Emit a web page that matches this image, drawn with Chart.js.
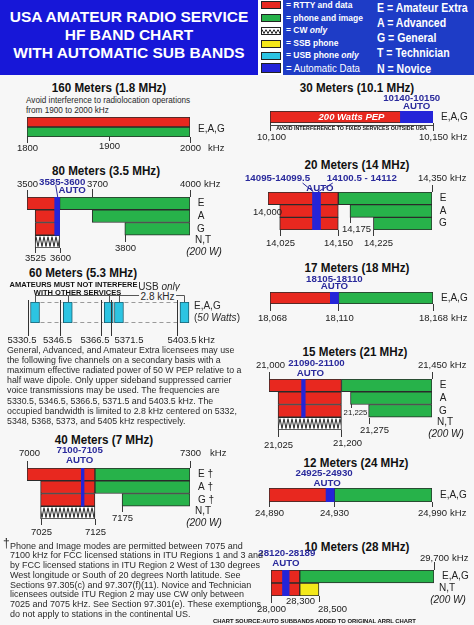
<!DOCTYPE html>
<html lang="en">
<head>
<meta charset="UTF-8">
<title>USA Amateur Radio Service HF Band Chart</title>
<script src="https://cdn.jsdelivr.net/npm/chart.js@4"></script>
<style>
  html, body { margin: 0; padding: 0; overflow: hidden; }
  body { width: 474px; height: 625px; background: #f7f7f7; }
  #page { position: relative; width: 474px; height: 625px; font-family: "Liberation Sans", Arial, sans-serif; }
  canvas.band { position: absolute; left: 0; top: 0; }
  .t { position: absolute; white-space: nowrap; line-height: 1; }
  .box { position: absolute; box-sizing: border-box; }
</style>
</head>
<body>
<div id="page"></div>
<script>
// ---- band data (kHz) ----
const b160Rows = ['E,A,G'];
const b160Data = [[1800, 2000]];
const b160Phone = [[1800, 2000]];
const b160Ticks = [1800, 1900, 2000];

const b80Rows = ['E', 'A', 'G', 'N,T'];
const b80Data = [[3500, 3600], [3525, 3600], [3525, 3600], null];
const b80Phone = [[3600, 4000], [3700, 4000], [3800, 4000], null];
const b80Cw = [null, null, null, [3525, 3600]];
const b80Auto = [[3585, 3600], [3585, 3600], [3585, 3600], null];
const b80Ticks = [3500, 3525, 3600, 3700, 3800, 4000];

const b60Low = [5330.5, 5346.5, 5366.5, 5371.5, 5403.5];
const b60Center = [5332, 5348, 5368, 5373, 5405];
const b60Range = [5325, 5410];

const b40Rows = ['E \u2020', 'A \u2020', 'G \u2020', 'N,T'];
const b40Data = [[7000, 7125], [7025, 7125], [7025, 7125], null];
const b40Phone = [[7125, 7300], [7125, 7300], [7175, 7300], null];
const b40Cw = [null, null, null, [7025, 7125]];
const b40Auto = [[7100, 7105], [7100, 7105], [7100, 7105], null];
const b40Ticks = [7000, 7025, 7125, 7175, 7300];

const b30Rows = ['E,A,G'];
const b30Data = [[10100, 10150]];
const b30Auto = [[10140, 10150]];
const b30Ticks = [10100, 10150];

const b20Rows = ['E', 'A', 'G'];
const b20Data = [[14000, 14150], [14025, 14150], [14025, 14150]];
const b20Phone = [[14150, 14350], [14175, 14350], [14225, 14350]];
const b20AutoLo = [[14095, 14099.5], [14095, 14099.5], [14095, 14099.5]];
const b20AutoHi = [[14100.5, 14112], [14100.5, 14112], [14100.5, 14112]];
const b20Ticks = [14000, 14025, 14150, 14175, 14225, 14350];

const b17Rows = ['E,A,G'];
const b17Data = [[18068, 18110]];
const b17Phone = [[18110, 18168]];
const b17Auto = [[18105, 18110]];
const b17Ticks = [18068, 18110, 18168];

const b15Rows = ['E', 'A', 'G', 'N,T'];
const b15Data = [[21000, 21200], [21025, 21200], [21025, 21200], null];
const b15Phone = [[21200, 21450], [21225, 21450], [21275, 21450], null];
const b15Cw = [null, null, null, [21025, 21200]];
const b15Auto = [[21090, 21100], [21090, 21100], [21090, 21100], null];
const b15Ticks = [21000, 21025, 21200, 21225, 21275, 21450];

const b12Rows = ['E,A,G'];
const b12Data = [[24890, 24930]];
const b12Phone = [[24930, 24990]];
const b12Auto = [[24925, 24930]];
const b12Ticks = [24890, 24930, 24990];

const b10Rows = ['E,A,G', 'N,T'];
const b10Data = [[28000, 28300], [28000, 28300]];
const b10Phone = [[28300, 29700], null];
const b10Ssb = [null, [28300, 28500]];
const b10Auto = [[28120, 28189], [28120, 28189]];
const b10Ticks = [28000, 28300, 28500, 29700];

// ---- look ----
const W = 474, H = 625;
const FONT = '"Liberation Sans", Arial, sans-serif';
const TICK = `9.5px ${FONT}`;
const SMALL = `7.8px ${FONT}`;
const ROW = `10px ${FONT}`;
const AUTO = `bold 9.7px ${FONT}`;
const NAVY = '#2a2a9c';
const EDGE = '#2b2b2b';
const MODE = {
  auto:  { label: 'Automatic Data',  color: '#2424d8', order: 0 },
  ssb:   { label: 'SSB phone',       color: '#f4e81a', order: 1 },
  data:  { label: 'RTTY and data',   color: '#e8281f', order: 2 },
  phone: { label: 'phone and image', color: '#27b24a', order: 2 },
  cw:    { label: 'CW only',         color: '#ffffff', order: 2 },
  usb:   { label: 'USB phone only',  color: '#2cc4e2', order: 2 }
};

const page = document.getElementById('page');
const plain = v => String(v);
const comma = v => v.toLocaleString('en-US');
const span = (r, sep = '-') => r[0] + sep + r[1];

function say(ctx, s, x, y, o = {}) {
  ctx.save();
  ctx.font = o.font || TICK;
  ctx.fillStyle = o.color || '#222';
  ctx.textAlign = o.align || 'center';
  ctx.textBaseline = 'middle';
  ctx.translate(x, y);
  if (o.sx) ctx.scale(o.sx, 1);
  ctx.fillText(s, 0, 0);
  ctx.restore();
}

function rule(ctx, x1, y1, x2, y2, color, w = 1) {
  ctx.save();
  ctx.strokeStyle = color;
  ctx.lineWidth = w;
  ctx.beginPath();
  ctx.moveTo(x1, y1);
  ctx.lineTo(x2, y2);
  ctx.stroke();
  ctx.restore();
}

// zig-zag fill used for the CW only rows
function zigTile(h) {
  const p = document.createElement('canvas');
  p.width = 4; p.height = h;
  const g = p.getContext('2d');
  g.fillStyle = '#fff'; g.fillRect(0, 0, 4, h);
  g.strokeStyle = '#111'; g.lineWidth = 0.9;
  g.beginPath(); g.moveTo(0, 1.5); g.lineTo(2, h - 1.5); g.lineTo(4, 1.5); g.stroke();
  return p;
}
function zigzag(c) {
  const ch = c.chart, ys = ch.scales.y;
  if (c.type !== 'data' || !ys || !ys.height) return '#fff';
  const rowH = ys.height / ch.data.labels.length;
  const top = ys.getPixelForValue(c.dataIndex) - rowH / 2;
  const pat = ch.ctx.createPattern(zigTile(Math.round(rowH)), 'repeat');
  pat.setTransform(new DOMMatrix().translate(0, Math.round(top)));
  return pat;
}

function marks(b) {
  return {
    id: 'marks',
    afterDatasetsDraw(chart) {
      const ctx = chart.ctx, xs = chart.scales.x, ys = chart.scales.y, a = chart.chartArea;
      const px = v => xs.getPixelForValue(v);
      b.ticks.forEach((v, i) => {
        const L = b.lay[i];
        const x = Math.round(px(v)) + 0.5;
        if (L.y2) rule(ctx, x, L.y1, x, L.y2, '#3a3a3a');
        const s = b.fmt(v), f = L.small ? SMALL : TICK, cx = x + (L.dx || 0);
        say(ctx, s, cx, L.ly, { font: f });
        if (L.unit != null) {
          ctx.font = f;
          const w = ctx.measureText(s).width;
          say(ctx, 'kHz', cx + w / 2 + L.unit, L.ly, { font: f, align: 'left' });
        }
      });
      const last = b.rows.length - 1;
      b.rows.forEach((r, i) => {
        const y = ys.getPixelForValue(i) + (b.rowDy || 0);
        if (r.length === 1) say(ctx, r, a.right + 11, y, { font: ROW });
        else if (r === 'N,T') say(ctx, r, a.right + 5, y - 1, { font: ROW, align: 'left' });
        else say(ctx, r, a.right + 8, y, { font: ROW, align: 'left' });
      });
      if (b.power) say(ctx, '(200 W)', a.right + 14, ys.getPixelForValue(last) + 10.5, { font: `italic ${ROW}` });
      (b.autos || []).forEach(u => {
        const m = (px(u.rng[0]) + px(u.rng[1])) / 2;
        u.lines.forEach((s, j) => say(ctx, s, m + u.dx[j], u.y[j], { font: AUTO, color: NAVY }));
      });
      if (b.extra) b.extra(ctx, px, a);
    }
  };
}

function band(b) {
  const cv = document.createElement('canvas');
  cv.width = W; cv.height = H; cv.className = 'band';
  page.appendChild(cv);
  const [l, r, t, bt] = b.area;
  return new Chart(cv, {
    type: 'bar',
    data: {
      labels: b.rows,
      datasets: b.sets.map(([mode, data]) => ({
        label: MODE[mode].label,
        data,
        backgroundColor: mode === 'cw' ? zigzag : MODE[mode].color,
        borderColor: mode === 'auto' ? MODE.auto.color : EDGE,
        borderWidth: mode === 'auto' ? 0 : 1,
        borderSkipped: false,
        grouped: !!b.grouped,
        order: MODE[mode].order,
        categoryPercentage: 1,
        barPercentage: 1
      }))
    },
    options: {
      indexAxis: 'y',
      responsive: false,
      animation: false,
      events: [],
      layout: { padding: { left: l, right: W - r, top: t, bottom: H - bt } },
      scales: {
        x: { type: 'linear', min: b.ticks[0], max: b.ticks[b.ticks.length - 1], display: false },
        y: { type: 'category', offset: true, display: false }
      },
      plugins: { legend: { display: false }, tooltip: { enabled: false } }
    },
    plugins: [marks(b)]
  });
}

// ---- HTML text and boxes ----
function txt(x, y, html, o = {}) {
  const d = document.createElement('div');
  d.className = 't';
  d.innerHTML = html;
  d.style.left = x + 'px';
  d.style.top = y + 'px';
  d.style.font = o.font || `8.6px ${FONT}`;
  d.style.color = o.color || '#2a2a2a';
  const al = o.align || 'left';
  const tx = al === 'center' ? '-50%' : al === 'right' ? '-100%' : '0';
  d.style.transformOrigin = (al === 'center' ? '50%' : al === 'right' ? '100%' : '0') + ' 50%';
  d.style.transform = `translate(${tx}, -50%) scaleX(${o.sx || 1})`;
  if (o.bg) { d.style.background = o.bg; d.style.padding = '0 2px'; }
  page.appendChild(d);
}
function box(x, y, w, h, bg, border) {
  const d = document.createElement('div');
  d.className = 'box';
  Object.assign(d.style, { left: x + 'px', top: y + 'px', width: w + 'px', height: h + 'px', background: bg });
  if (border) d.style.border = border;
  page.appendChild(d);
  return d;
}

// header
box(0, 0, 258, 75, '#1717d8');
box(258, 0, 25, 75, '#ffffff');
box(283, 0, 87, 75, '#1e3cc6');
box(370, 0, 104, 75, '#1e3cc6');
const HEAD = `bold 15.5px ${FONT}`;
txt(129, 17, 'USA AMATEUR RADIO SERVICE', { align: 'center', font: HEAD, color: '#fff' });
txt(129, 34.5, 'HF BAND CHART', { align: 'center', font: HEAD, color: '#fff' });
txt(129, 52.5, 'WITH AUTOMATIC SUB BANDS', { align: 'center', font: HEAD, color: '#fff' });

const swatchModes = ['data', 'phone', 'cw', 'ssb', 'usb', 'auto'];
const swatchY = [0.5, 14, 27, 39.5, 52, 63];
swatchModes.forEach((m, i) => {
  const s = box(260.5, swatchY[i], 20, m === 'auto' ? 10 : 8, MODE[m].color, '1px solid #222');
  if (m === 'cw') s.style.background = `url(${zigTile(7).toDataURL()}) repeat`;
});
const legendText = ['= RTTY and data', '= phone and image', '= CW <i>only</i>', '= SSB phone', '= USB phone <i>only</i>'];
const legendY = [5, 17.5, 30, 42.5, 54.5];
legendText.forEach((s, i) => txt(285.5, legendY[i], s, { font: `bold 9px ${FONT}`, color: '#fff', sx: 0.94 }));
txt(285.5, 68, '= Automatic Data', { font: `11px ${FONT}`, color: '#fff', sx: 0.88 });

const licText = ['E = Amateur Extra', 'A = Advanced', 'G = General', 'T = Technician', 'N = Novice'];
const licY = [7, 22.3, 36.5, 52, 68.3];
licText.forEach((s, i) => txt(377, licY[i], s, { font: `bold 13.5px ${FONT}`, color: '#fff', sx: 0.78 }));

// band titles
const TITLE = `bold 12px ${FONT}`;
[['160 Meters (1.8 MHz)', 108.5, 88], ['80 Meters (3.5 MHz)', 106, 171], ['60 Meters (5.3 MHz)', 82.5, 273],
 ['40 Meters (7 MHz)', 104, 440], ['30 Meters (10.1 MHz)', 357, 88], ['20 Meters (14 MHz)', 357, 165],
 ['17 Meters (18 MHz)', 357, 268], ['15 Meters (21 MHz)', 355, 352], ['12 Meters (24 MHz)', 356, 463],
 ['10 Meters (28 MHz)', 357, 547]]
  .forEach(([s, x, y]) => txt(x, y, s, { align: 'center', font: TITLE, color: '#111', sx: 0.97 }));

txt(26, 100, 'Avoid interference to radiolocation operations', { font: `8.2px ${FONT}` });
txt(26, 109.5, 'from 1900 to 2000 kHz', { font: `8.2px ${FONT}` });

// ---- charts ----
band({
  area: [27, 190, 117, 137], grouped: true, rowDy: 2,
  rows: b160Rows, sets: [['data', b160Data], ['phone', b160Phone]],
  ticks: b160Ticks, fmt: plain,
  lay: [{ y1: 137, y2: 143, ly: 148 }, { y1: 137, y2: 141, ly: 146 }, { y1: 137, y2: 143, ly: 148, unit: 7 }]
});

band({
  area: [27, 190, 197, 248], power: true,
  rows: b80Rows, sets: [['auto', b80Auto], ['data', b80Data], ['phone', b80Phone], ['cw', b80Cw]],
  ticks: b80Ticks, fmt: plain,
  lay: [{ y1: 190, y2: 197, ly: 184 }, { y1: 248, y2: 253, ly: 258 }, { y1: 248, y2: 253, ly: 258 },
        { y1: 189, y2: 197, ly: 184, dx: 5 }, { y1: 235, y2: 242, ly: 248 }, { y1: 190, y2: 197, ly: 184, unit: 3 }],
  autos: [{ rng: b80Auto[0], lines: [span(b80Auto[0]), 'AUTO'], dx: [5, 15], y: [182, 190] }],
  extra(ctx, px) {
    const x = px(b80Auto[0][0]);
    rule(ctx, x + 1, 185, x + 3, 197, NAVY);
  }
});

band({
  area: [27, 190, 468, 519], power: true,
  rows: b40Rows, sets: [['auto', b40Auto], ['data', b40Data], ['phone', b40Phone], ['cw', b40Cw]],
  ticks: b40Ticks, fmt: plain,
  lay: [{ y1: 461, y2: 468, ly: 453, dx: 2 }, { y1: 519, y2: 525, ly: 532 }, { y1: 519, y2: 525, ly: 532 },
        { y1: 506, y2: 512, ly: 518 }, { y1: 461, y2: 468, ly: 453, unit: 9 }],
  autos: [{ rng: b40Auto[0], lines: [span(b40Auto[0]), 'AUTO'], dx: [-3, -3], y: [450, 460] }]
});

band({
  area: [270, 433, 111, 123],
  rows: b30Rows, sets: [['auto', b30Auto], ['data', b30Data]],
  ticks: b30Ticks, fmt: comma,
  lay: [{ y1: 123, y2: 131, ly: 137, dx: 1 }, { y1: 123, y2: 131, ly: 137, unit: 3 }],
  autos: [{ rng: b30Auto[0], lines: [span(b30Auto[0]), 'AUTO'], dx: [-5, 0], y: [98, 106] }],
  extra(ctx, px, a) {
    const m = (px(b30Data[0][0]) + px(b30Data[0][1])) / 2;
    say(ctx, '200 Watts PEP', m, 117.5, { font: `italic bold 9.5px ${FONT}`, color: '#fff' });
    rule(ctx, a.left, 125.5, a.right, 125.5, '#444');
    say(ctx, 'AVOID INTERFERENCE TO FIXED SERVICES OUTSIDE USA', m, 129, { font: `bold 5.3px ${FONT}`, color: '#111' });
  }
});

band({
  area: [268, 432, 192, 230],
  rows: b20Rows, sets: [['auto', b20AutoLo], ['auto', b20AutoHi], ['data', b20Data], ['phone', b20Phone]],
  ticks: b20Ticks, fmt: comma,
  lay: [{ ly: 212, dx: -1 }, { y1: 230, y2: 236, ly: 243 }, { y1: 230, y2: 236, ly: 243 },
        { y1: 217, y2: 223, ly: 229, dx: 6 }, { y1: 230, y2: 236, ly: 243, dx: 5 }, { y1: 185, y2: 192, ly: 178, unit: 3 }],
  autos: [
    { rng: b20AutoLo[0], lines: [span(b20AutoLo[0])], dx: [-36], y: [178] },
    { rng: b20AutoHi[0], lines: [span(b20AutoHi[0], ' - '), 'AUTO'], dx: [44, 2], y: [178, 188] }
  ],
  extra(ctx, px) {
    const m1 = (px(b20AutoLo[0][0]) + px(b20AutoLo[0][1])) / 2;
    const m2 = (px(b20AutoHi[0][0]) + px(b20AutoHi[0][1])) / 2;
    rule(ctx, m1 - 11, 183, m1, 192, NAVY);
    rule(ctx, m2 + 15, 183, m2, 192, NAVY);
  }
});

band({
  area: [270, 433, 292, 304],
  rows: b17Rows, sets: [['auto', b17Auto], ['data', b17Data], ['phone', b17Phone]],
  ticks: b17Ticks, fmt: comma,
  lay: [{ y1: 304, y2: 311, ly: 318, dx: 2 }, { y1: 304, y2: 311, ly: 318, dx: 1 }, { y1: 304, y2: 311, ly: 318, unit: 3 }],
  autos: [{ rng: b17Auto[0], lines: [span(b17Auto[0]), 'AUTO'], dx: [0, 0], y: [279, 286.5] }]
});

band({
  area: [269, 432, 379, 430], power: true,
  rows: b15Rows, sets: [['auto', b15Auto], ['data', b15Data], ['phone', b15Phone], ['cw', b15Cw]],
  ticks: b15Ticks, fmt: comma,
  lay: [{ y1: 372, y2: 379, ly: 365, dx: 1 }, { y1: 430, y2: 437, ly: 445 }, { y1: 430, y2: 437, ly: 443, dx: 6 },
        { y1: 404, y2: 408, ly: 413, dx: 4, small: true }, { y1: 418, y2: 424, ly: 430, dx: 5 }, { y1: 372, y2: 379, ly: 365, unit: 3 }],
  autos: [{ rng: b15Auto[0], lines: [span(b15Auto[0]), 'AUTO'], dx: [13, 7], y: [363, 373] }]
});

band({
  area: [269, 432, 488, 502],
  rows: b12Rows, sets: [['auto', b12Auto], ['data', b12Data], ['phone', b12Phone]],
  ticks: b12Ticks, fmt: comma,
  lay: [{ y1: 502, y2: 507, ly: 513 }, { y1: 502, y2: 507, ly: 513 }, { y1: 502, y2: 507, ly: 513, unit: 3 }],
  autos: [{ rng: b12Auto[0], lines: [span(b12Auto[0]), 'AUTO'], dx: [-6, -3], y: [473, 483] }]
});

band({
  area: [271, 434, 570, 596], power: true,
  rows: b10Rows, sets: [['auto', b10Auto], ['ssb', b10Ssb], ['data', b10Data], ['phone', b10Phone]],
  ticks: b10Ticks, fmt: comma,
  lay: [{ y1: 596, y2: 603, ly: 609 }, { ly: 601.5, dx: 0 }, { y1: 596, y2: 602, ly: 609, dx: 13 }, { y1: 562, y2: 570, ly: 558, unit: 3 }],
  autos: [{ rng: b10Auto[0], lines: [span(b10Auto[0]), 'AUTO'], dx: [1, 0], y: [553, 563.5] }]
});

// 60 m channels: vertical bars on a linear frequency axis
(function () {
  const cv = document.createElement('canvas');
  cv.width = W; cv.height = H; cv.className = 'band';
  page.appendChild(cv);
  const lab = [[-6.5, 340], [-3, 340], [-6.5, 340], [17.5, 340], [4.5, 340]];
  new Chart(cv, {
    type: 'bar',
    data: {
      datasets: [{
        label: MODE.usb.label,
        data: b60Center.map(c => ({ x: c, y: [0, 1] })),
        backgroundColor: MODE.usb.color,
        borderColor: '#1b5f70',
        borderWidth: 1,
        borderSkipped: false,
        barThickness: 9
      }]
    },
    options: {
      responsive: false,
      animation: false,
      events: [],
      layout: { padding: { left: 20.7, right: W - 194.7, top: 302, bottom: H - 323 } },
      scales: {
        x: { type: 'linear', min: b60Range[0], max: b60Range[1], offset: false, display: false },
        y: { min: 0, max: 1, display: false }
      },
      plugins: { legend: { display: false }, tooltip: { enabled: false } }
    },
    plugins: [{
      id: 'marks60',
      afterDatasetsDraw(chart) {
        const ctx = chart.ctx, a = chart.chartArea, bars = chart.getDatasetMeta(0).data;
        const ed = bars.map(el => [el.x - el.width / 2, el.x + el.width / 2]);
        ctx.save();
        ctx.setLineDash([4, 3]);
        ctx.strokeStyle = '#9a9a9a';
        for (let i = 0; i < ed.length - 1; i++) {
          [a.top + 0.5, a.bottom - 0.5].forEach(y => {
            ctx.beginPath(); ctx.moveTo(ed[i][1] + 1, y); ctx.lineTo(ed[i + 1][0] - 1, y); ctx.stroke();
          });
        }
        ctx.restore();
        const yB = a.top - 6.5;
        rule(ctx, bars[0].x, yB, bars[bars.length - 1].x, yB, '#555');
        bars.forEach(el => { const x = Math.round(el.x) + 0.5; rule(ctx, x, yB, x, a.top, '#555'); });
        b60Low.forEach((v, i) => {
          const x = Math.round(ed[i][0] - 3) + 0.5;
          rule(ctx, x, a.top - 2, x, a.bottom + 13, '#333');
          const s = String(v);
          say(ctx, s, x + lab[i][0], lab[i][1], { font: TICK });
          if (i === b60Low.length - 1) {
            ctx.font = TICK;
            say(ctx, 'kHz', x + lab[i][0] + ctx.measureText(s).width / 2 + 2, lab[i][1], { font: TICK, align: 'left' });
          }
        });
      }
    }]
  });
})();

// 60 m notes and paragraph
txt(73.5, 284, 'AMATEURS MUST NOT INTERFERE', { align: 'center', font: `bold 7.5px ${FONT}`, color: '#111' });
txt(77.5, 292, 'WITH OTHER SERVICES', { align: 'center', font: `bold 7.5px ${FONT}`, color: '#111' });
txt(159, 286, 'USB <i>only</i>', { align: 'center', font: `10px ${FONT}` });
txt(157.5, 295.5, '2.8 kHz', { align: 'center', font: `10px ${FONT}`, bg: '#f7f7f7' });
txt(194, 305, 'E,A,G', { font: ROW });
txt(194, 317, '(<i>50 Watts</i>)', { font: ROW });

const para60 = [
  'General, Advanced, and Amateur Extra licensees may use',
  'the following five channels on a secondary basis with a',
  'maximum effective radiated power of 50 W PEP relative to a',
  'half wave dipole. Only upper sideband suppressed carrier',
  'voice transmissions may be used. The frequencies are',
  '5330.5, 5346.5, 5366.5, 5371.5 and 5403.5 kHz. The',
  'occupied bandwidth is limited to 2.8 kHz centered on 5332,',
  '5348, 5368, 5373, and 5405 kHz respectively.'
];
para60.forEach((s, i) => txt(7, 350 + i * 10.1, s, { font: `8.8px ${FONT}` }));

const note40 = [
  'Phone and Image modes are permitted between 7075 and',
  '7100 kHz for FCC licensed stations in ITU Regions 1 and 3 and',
  'by FCC licensed stations in ITU Region 2 West of 130 degrees',
  'West longitude or South of 20 degrees North latitude. See',
  'Sections 97.305(c) and 97.307(f)(11). Novice and Technician',
  'licensees outside ITU Region 2 may use CW only between',
  '7025 and 7075 kHz. See Section 97.301(e). These exemptions',
  'do not apply to stations in the continental US.'
];
txt(3, 543, '\u2020', { font: `12px ${FONT}` });
note40.forEach((s, i) => txt(10, 545.7 + i * 9.75, s, { font: `9px ${FONT}` }));

txt(213, 620, 'CHART SOURCE:AUTO SUBBANDS ADDED TO ORIGINAL ARRL CHART', { font: `bold 6.2px ${FONT}`, color: '#111', sx: 0.95 });
</script>
</body>
</html>
